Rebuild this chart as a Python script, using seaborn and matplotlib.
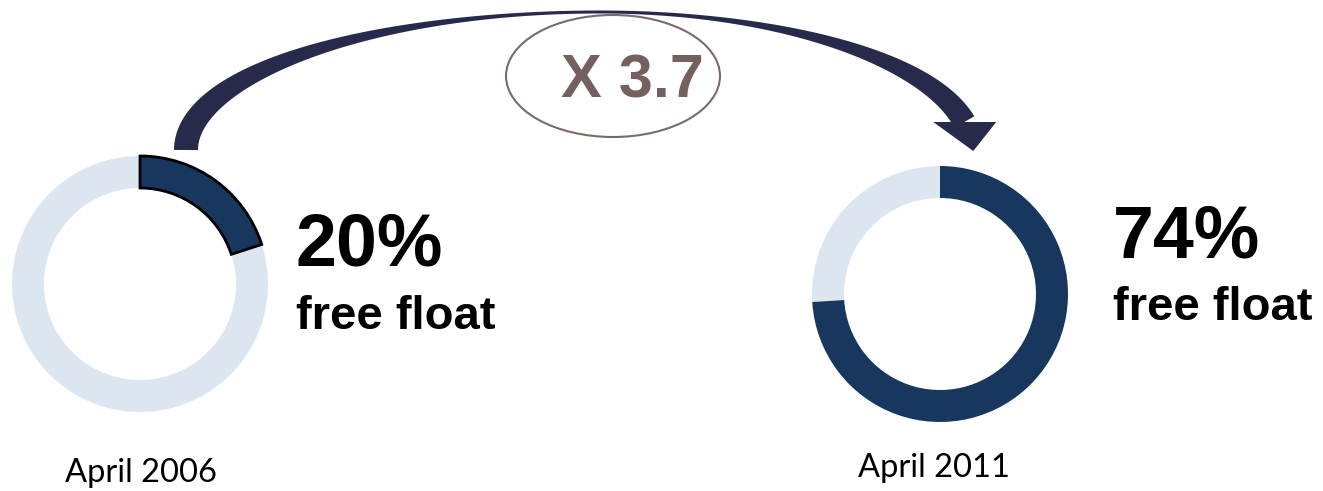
import numpy as np
import matplotlib
matplotlib.use("Agg")
import matplotlib.pyplot as plt
import seaborn as sns
from matplotlib.patches import Ellipse, Polygon

# ---- data ----
years = ["April 2006", "April 2011"]
free_float = [20, 74]
value_labels = ["20%", "74%"]
sub_label = "free float"
multiplier_label = "X 3.7"

sns.set_theme(style="white")
plt.rcParams["font.family"] = ["Liberation Sans", "DejaVu Sans"]

W, H = 1323, 491
fig = plt.figure(figsize=(W / 100, H / 100), dpi=100)
ax = fig.add_axes([0, 0, 1, 1])

dark = "#17375e"
light = "#dce6f1"
arrow_col = "#272a4a"

centers = [(140, 284), (940, 294)]
R, ring = 128, 32
for i, ((cx, cy), v) in enumerate(zip(centers, free_float)):
    wedges, _ = ax.pie([v, 100 - v], colors=[dark, light], startangle=270,
                       counterclock=True, radius=R, center=(cx, cy),
                       wedgeprops=dict(width=ring, linewidth=0))
    if i == 0:
        wedges[0].set_edgecolor("black")
        wedges[0].set_linewidth(2)
    wedges[0].set_zorder(3)

# value labels
val_pos = [(296, 266), (1113, 257)]
sub_pos = [(296, 329), (1113, 320)]
for (x, y), t in zip(val_pos, value_labels):
    ax.text(x, y, t, fontsize=53, fontweight="bold", ha="left", va="baseline", color="black")
for (x, y) in sub_pos:
    ax.text(x, y, sub_label, fontsize=34, fontweight="bold", ha="left", va="baseline", color="black")

# year labels
year_pos = [(65, 482), (858, 477)]
for (x, y), t in zip(year_pos, years):
    ax.text(x, y, t, fontsize=23.5, family=["Lato", "DejaVu Sans"], ha="left", va="baseline", color="black")

# curved arrow
cxa, cya, b = 600, 150, 138
aL, aR = 414, 372
th_end = np.arcsin(28 / b)
th = np.linspace(np.pi, th_end, 600)
a = np.where(np.cos(th) < 0, aL, aR)
x = cxa + a * np.cos(th)
y = cya - b * np.sin(th)
dx = np.gradient(x)
dy = np.gradient(y)
nrm = np.hypot(dx, dy)
nx, ny = -dy / nrm, dx / nrm
h = 1.5 + 10.5 * np.abs(np.cos(th)) ** 2.2
side1 = np.column_stack([x + nx * h, y + ny * h])
side2 = np.column_stack([x - nx * h, y - ny * h])
poly = np.vstack([side1, side2[::-1]])
ax.add_patch(Polygon(poly, closed=True, facecolor=arrow_col, edgecolor="none", zorder=4))
ex, ey = x[-1], y[-1]
head = [(ex - 31, ey), (ex + 32, ey), (ex + 9, ey + 29)]
ax.add_patch(Polygon(head, closed=True, facecolor=arrow_col, edgecolor="none", zorder=4))

# multiplier bubble
ax.add_patch(Ellipse((613, 76), 214, 122, fill=False, edgecolor="#7b6a6a", lw=1.5, zorder=3))
ax.text(632, 97, multiplier_label, fontsize=44, fontweight="bold", color="#74615f",
        ha="center", va="baseline", zorder=5)

ax.set_xlim(0, W)
ax.set_ylim(H, 0)
ax.set_aspect("equal")
ax.axis("off")
fig.savefig("out.png", dpi=100)
